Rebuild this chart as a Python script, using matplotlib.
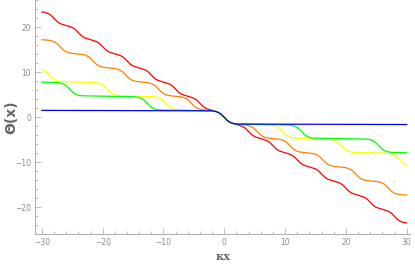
import matplotlib
matplotlib.use("Agg")
import matplotlib.pyplot as plt
from matplotlib.ticker import MultipleLocator

# Data (kappa*x, Theta(x))
blue_x = [-30, -2, -1.5, -1, -0.5, 0, 0.5, 1, 1.5, 2, 30]
blue_y = [1.57, 1.47, 1.36, 1.13, 0.69, 0, -0.69, -1.13, -1.36, -1.47, -1.57]

green_x = [-30,
           -27.4, -26.9, -26.4, -25.9, -25.4, -24.9, -24.4, -23.9, -23.4,
           -14.7, -14.2, -13.7, -13.2, -12.7, -12.2, -11.7, -11.2, -10.7,
           -2, -1.5, -1, -0.5, 0, 0.5, 1, 1.5, 2,
           10.7, 11.2, 11.7, 12.2, 12.7, 13.2, 13.7, 14.2, 14.7,
           23.4, 23.9, 24.4, 24.9, 25.4, 25.9, 26.4, 26.9, 27.4,
           30]
green_y = [7.85,
           7.75, 7.64, 7.41, 6.97, 6.28, 5.59, 5.15, 4.92, 4.81,
           4.61, 4.50, 4.27, 3.83, 3.14, 2.45, 2.01, 1.78, 1.67,
           1.47, 1.36, 1.13, 0.69, 0, -0.69, -1.13, -1.36, -1.47,
           -1.67, -1.78, -2.01, -2.45, -3.14, -3.83, -4.27, -4.50, -4.61,
           -4.81, -4.92, -5.15, -5.59, -6.28, -6.97, -7.41, -7.64, -7.75,
           -7.85]

yellow_x = [-30, -29.3, -28.8, -28.3, -27.8, -27.3, -26.8,
            -21.2, -20.7, -20.2, -19.7, -19.2, -18.7, -18.2, -17.7, -17.2,
            -11.6, -11.1, -10.6, -10.1, -9.6, -9.1, -8.6, -8.1, -7.6,
            -2, -1.5, -1, -0.5, 0, 0.5, 1, 1.5, 2,
            7.6, 8.1, 8.6, 9.1, 9.6, 10.1, 10.6, 11.1, 11.6,
            17.2, 17.7, 18.2, 18.7, 19.2, 19.7, 20.2, 20.7, 21.2,
            26.8, 27.3, 27.8, 28.3, 28.8, 29.3, 30]
yellow_y = [10.67, 10.12, 9.43, 8.74, 8.30, 8.06, 7.95,
            7.75, 7.64, 7.41, 6.97, 6.28, 5.59, 5.15, 4.92, 4.81,
            4.61, 4.50, 4.27, 3.83, 3.14, 2.45, 2.01, 1.78, 1.67,
            1.47, 1.36, 1.13, 0.69, 0, -0.69, -1.13, -1.36, -1.47,
            -1.67, -1.78, -2.01, -2.45, -3.14, -3.83, -4.27, -4.50, -4.61,
            -4.81, -4.92, -5.15, -5.59, -6.28, -6.97, -7.41, -7.64, -7.75,
            -7.95, -8.06, -8.30, -8.74, -9.43, -10.12, -10.67]

orange_x = [-30,
            -29, -28.5, -28, -27.5, -27, -26.5, -26, -25.5, -25,
            -23.6, -23.1, -22.6, -22.1, -21.6, -21.1, -20.6, -20.1, -19.6,
            -18.2, -17.7, -17.2, -16.7, -16.2, -15.7, -15.2, -14.7, -14.2,
            -12.8, -12.3, -11.8, -11.3, -10.8, -10.3, -9.8, -9.3, -8.8,
            -7.4, -6.9, -6.4, -5.9, -5.4, -4.9, -4.4, -3.9, -3.4,
            -2, -1.5, -1, -0.5, 0, 0.5, 1, 1.5, 2,
            3.4, 3.9, 4.4, 4.9, 5.4, 5.9, 6.4, 6.9, 7.4,
            8.8, 9.3, 9.8, 10.3, 10.8, 11.3, 11.8, 12.3, 12.8,
            14.2, 14.7, 15.2, 15.7, 16.2, 16.7, 17.2, 17.7, 18.2,
            19.6, 20.1, 20.6, 21.1, 21.6, 22.1, 22.6, 23.1, 23.6,
            25, 25.5, 26, 26.5, 27, 27.5, 28, 28.5, 29,
            30]
orange_y = [17.26,
            17.18, 17.07, 16.84, 16.40, 15.71, 15.02, 14.58, 14.35, 14.24,
            14.04, 13.93, 13.70, 13.26, 12.57, 11.88, 11.44, 11.21, 11.10,
            10.90, 10.79, 10.56, 10.12, 9.43, 8.73, 8.29, 8.06, 7.95,
            7.75, 7.64, 7.41, 6.97, 6.28, 5.59, 5.15, 4.92, 4.81,
            4.61, 4.50, 4.27, 3.83, 3.14, 2.45, 2.01, 1.78, 1.67,
            1.47, 1.36, 1.13, 0.69, 0, -0.69, -1.13, -1.36, -1.47,
            -1.67, -1.78, -2.01, -2.45, -3.14, -3.83, -4.27, -4.50, -4.61,
            -4.81, -4.92, -5.15, -5.59, -6.28, -6.97, -7.41, -7.64, -7.75,
            -7.95, -8.06, -8.29, -8.73, -9.43, -10.12, -10.56, -10.79, -10.90,
            -11.10, -11.21, -11.44, -11.88, -12.57, -13.26, -13.70, -13.93, -14.04,
            -14.24, -14.35, -14.58, -15.02, -15.71, -16.40, -16.84, -17.07, -17.18,
            -17.26]

red_x = [-30,
         -29.5, -29, -28.5, -28, -27.5, -27, -26.5, -26,
         -25.5, -25, -24.5, -24, -23.5, -23, -22.5, -22,
         -21.5, -21, -20.5, -20, -19.5, -19, -18.5, -18,
         -17.5, -17, -16.5, -16, -15.5, -15, -14.5, -14,
         -13.5, -13, -12.5, -12, -11.5, -11, -10.5, -10,
         -9.5, -9, -8.5, -8, -7.5, -7, -6.5, -6,
         -5.5, -5, -4.5, -4, -3.5, -3, -2.5, -2,
         -1.5, -1, -0.5, 0, 0.5, 1, 1.5, 2,
         2.5, 3, 3.5, 4, 4.5, 5, 5.5, 6,
         6.5, 7, 7.5, 8, 8.5, 9, 9.5, 10,
         10.5, 11, 11.5, 12, 12.5, 13, 13.5, 14,
         14.5, 15, 15.5, 16, 16.5, 17, 17.5, 18,
         18.5, 19, 19.5, 20, 20.5, 21, 21.5, 22,
         22.5, 23, 23.5, 24, 24.5, 25, 25.5, 26,
         26.5, 27, 27.5, 28, 28.5, 29, 29.5, 30]
red_y = [23.46,
         23.35, 23.12, 22.68, 21.99, 21.30, 20.86, 20.63, 20.42,
         20.21, 19.98, 19.54, 18.85, 18.16, 17.72, 17.49, 17.28,
         17.07, 16.84, 16.40, 15.71, 15.02, 14.58, 14.35, 14.14,
         13.93, 13.70, 13.26, 12.57, 11.88, 11.44, 11.21, 11.00,
         10.79, 10.56, 10.12, 9.43, 8.73, 8.29, 8.06, 7.85,
         7.64, 7.41, 6.97, 6.28, 5.59, 5.15, 4.92, 4.71,
         4.50, 4.27, 3.83, 3.14, 2.45, 2.01, 1.78, 1.57,
         1.36, 1.13, 0.69, 0, -0.69, -1.13, -1.36, -1.57,
         -1.78, -2.01, -2.45, -3.14, -3.83, -4.27, -4.50, -4.71,
         -4.92, -5.15, -5.59, -6.28, -6.97, -7.41, -7.64, -7.85,
         -8.06, -8.29, -8.73, -9.43, -10.12, -10.56, -10.79, -11.00,
         -11.21, -11.44, -11.88, -12.57, -13.26, -13.70, -13.93, -14.14,
         -14.35, -14.58, -15.02, -15.71, -16.40, -16.84, -17.07, -17.28,
         -17.49, -17.72, -18.16, -18.85, -19.54, -19.98, -20.21, -20.42,
         -20.63, -20.86, -21.30, -21.99, -22.68, -23.12, -23.35, -23.46]

axis_gray = "#b3b3b3"
text_gray = "#8c8c8c"

fig = plt.figure(figsize=(4.15, 2.65), dpi=100)
ax = fig.add_axes([0.0848, 0.117, 0.904, 0.883])

ax.plot(red_x, red_y, color="#ff0000", lw=0.9)
ax.plot(orange_x, orange_y, color="#ff8000", lw=0.9)
ax.plot(yellow_x, yellow_y, color="#ffff00", lw=0.9)
ax.plot(green_x, green_y, color="#00ff00", lw=0.9)
ax.plot(blue_x, blue_y, color="#0000ff", lw=0.9)

ax.set_xlim(-31.1, 30.6)
ax.set_ylim(-25.9, 26.1)

ax.spines["top"].set_visible(False)
ax.spines["right"].set_visible(False)
ax.spines["left"].set_color(axis_gray)
ax.spines["bottom"].set_color(axis_gray)

ax.xaxis.set_major_locator(MultipleLocator(10))
ax.xaxis.set_minor_locator(MultipleLocator(2))
ax.yaxis.set_major_locator(MultipleLocator(10))
ax.yaxis.set_minor_locator(MultipleLocator(2))
ax.tick_params(which="both", direction="in", color=axis_gray, labelcolor=text_gray,
               labelsize=5.5, width=0.6)
ax.tick_params(which="major", length=4, pad=3)
ax.tick_params(which="minor", length=2)

ax.set_xlabel("κx", fontsize=8, family="DejaVu Serif", fontweight="bold",
              color="#666666", labelpad=3)
# y label placed by hand so it is not clipped at the left edge
fig.text(11 / 415, 1 - 117 / 265, "Θ(x)", rotation=90, ha="center", va="center",
         fontsize=10, fontweight="bold", color="#666666")

plt.savefig("out.png", dpi=100)
